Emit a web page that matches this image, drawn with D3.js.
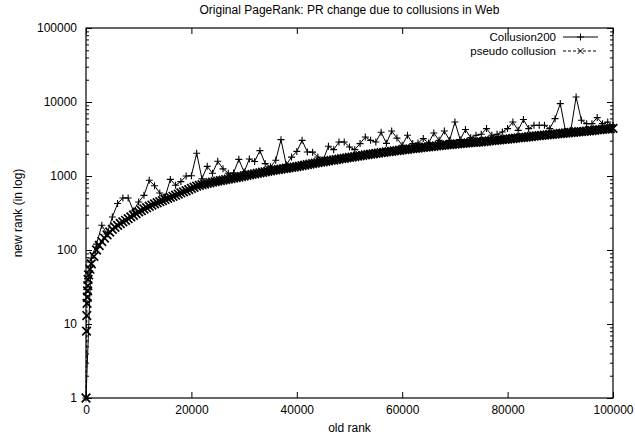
<!DOCTYPE html>
<html><head><meta charset="utf-8">
<script src="https://cdn.jsdelivr.net/npm/d3@7"></script>
<style>
body{margin:0;background:#fff}
svg{display:block}
text{font-family:"Liberation Sans",Arial,Helvetica,sans-serif;fill:#000}
</style>
</head><body>
<svg id="chart" width="635" height="438"></svg>
<script>
const chartTitle = "Original PageRank: PR change due to collusions in Web";
const xAxisLabel = "old rank";
const yAxisLabel = "new rank (in log)";
const seriesNames = ["Collusion200", "pseudo collusion"];
const xTickValues = [0, 20000, 40000, 60000, 80000, 100000];
const yTickValues = [1, 10, 100, 1000, 10000, 100000];

// Collusion200: old rank (step 1000) -> new rank
const collusionRanks = d3.range(0, 100001, 1000);
const collusionValues = [
  1, 78, 120, 216, 165, 279, 424, 505, 505, 337,
  446, 548, 875, 740, 590, 520, 900, 750, 840, 1000,
  1010, 2030, 920, 1350, 1090, 1580, 1250, 1090, 1100, 1680,
  1130, 1700, 1570, 2200, 1470, 1330, 1630, 3100, 1420, 1800,
  2150, 3030, 2110, 2100, 1810, 1650, 2520, 2270, 2880, 2880,
  2470, 2270, 2740, 3360, 3030, 2880, 3900, 2760, 4060, 3250,
  2600, 3550, 2740, 2790, 3200, 2790, 3810, 3030, 4060, 3030,
  5370, 3100, 4240, 3300, 3550, 3660, 4370, 3550, 3660, 3930,
  4370, 5370, 4140, 5790, 4370, 4840, 4840, 4840, 4370, 5960,
  9510, 4000, 4140, 11690, 5660, 5100, 5100, 6150, 5100, 5370,
  4840
];

// pseudo collusion: early irregular samples, then every 500
const pseudoEarlyRanks = [0, 100, 150, 200, 250, 300, 350, 400, 500, 750];
const pseudoEarlyValues = [1, 8, 13, 19, 23, 28, 33, 40, 46, 55];
const pseudoGridRanks = d3.range(1000, 100001, 500);
const pseudoGridValues = [
  65, 82, 100, 115, 130, 145, 160, 175, 190, 203,
  215, 228, 240, 252, 265, 280, 295, 310, 328, 342,
  358, 373, 390, 405, 420, 435, 450, 465, 482, 498,
  515, 532, 550, 570, 590, 610, 632, 655, 680, 705,
  728, 748, 765, 780, 795, 810, 825, 840, 855, 868,
  880, 895, 910, 925, 940, 955, 970, 985, 1000, 1018,
  1035, 1052, 1070, 1088, 1105, 1123, 1140, 1158, 1175, 1192,
  1208, 1225, 1240, 1256, 1272, 1288, 1305, 1322, 1340, 1360,
  1382, 1404, 1426, 1448, 1470, 1492, 1514, 1536, 1558, 1580,
  1602, 1624, 1646, 1668, 1690, 1712, 1734, 1756, 1780, 1804,
  1828, 1852, 1876, 1900, 1924, 1948, 1972, 1996, 2020, 2043,
  2066, 2089, 2112, 2135, 2158, 2181, 2204, 2227, 2250, 2273,
  2296, 2319, 2342, 2365, 2388, 2411, 2434, 2457, 2480, 2502,
  2524, 2546, 2568, 2590, 2612, 2634, 2656, 2678, 2700, 2720,
  2740, 2760, 2780, 2800, 2820, 2840, 2860, 2880, 2900, 2925,
  2950, 2975, 3000, 3025, 3050, 3075, 3100, 3125, 3150, 3180,
  3210, 3240, 3270, 3300, 3330, 3360, 3390, 3420, 3450, 3480,
  3510, 3540, 3570, 3600, 3630, 3660, 3690, 3720, 3750, 3780,
  3810, 3840, 3870, 3900, 3930, 3960, 3990, 4020, 4050, 4085,
  4120, 4155, 4190, 4225, 4260, 4295, 4330, 4365, 4400
];

const collusionData = collusionRanks.map((r, i) => ({x: r, y: collusionValues[i]}));
const pseudoData = pseudoEarlyRanks.map((r, i) => ({x: r, y: pseudoEarlyValues[i]}))
  .concat(pseudoGridRanks.map((r, i) => ({x: r, y: pseudoGridValues[i]})));

const svg = d3.select("#chart");
const L = 86, R = 613, T = 28, B = 398;

const x = d3.scaleLinear().domain([0, 100000]).range([L, R]);
const y = d3.scaleLog().domain([1, 100000]).range([B, T]);

const fs = 12;

// Title
svg.append("text").attr("x", (L + R) / 2).attr("y", 14).attr("text-anchor", "middle")
  .style("font-size", fs + "px").text(chartTitle);

// Axes (ticks inward)
svg.append("g").attr("transform", `translate(0,${B})`)
  .call(d3.axisBottom(x).tickValues(xTickValues).tickSize(-6).tickPadding(7).tickFormat(d3.format("d")));
svg.append("g").attr("transform", `translate(0,${T})`)
  .call(d3.axisTop(x).tickValues(xTickValues).tickSize(-6).tickFormat(""));
svg.append("g").attr("transform", `translate(${L},0)`)
  .call(d3.axisLeft(y).tickValues(yTickValues).tickSize(-6).tickPadding(9).tickFormat(d3.format("d")));
svg.append("g").attr("transform", `translate(${R},0)`)
  .call(d3.axisRight(y).tickValues(yTickValues).tickSize(-6).tickFormat(""));

// minor log ticks
const minorVals = [];
yTickValues.slice(0, -1).forEach(d => { for (let k = 2; k <= 9; k++) minorVals.push(d * k); });
svg.append("g").attr("transform", `translate(${L},0)`)
  .call(d3.axisLeft(y).tickValues(minorVals).tickSize(-3).tickFormat(""));
svg.append("g").attr("transform", `translate(${R},0)`)
  .call(d3.axisRight(y).tickValues(minorVals).tickSize(-3).tickFormat(""));

svg.selectAll(".domain").remove();
svg.selectAll(".tick line").attr("stroke", "#000");
svg.selectAll(".tick text").style("font-size", fs + "px").style("font-family", '"Liberation Sans",Arial,sans-serif');

// Frame
svg.append("rect").attr("x", L).attr("y", T).attr("width", R - L).attr("height", B - T)
  .attr("fill", "none").attr("stroke", "#000").attr("stroke-width", 1.2);

// Axis labels
svg.append("text").attr("x", (L + R) / 2).attr("y", 432).attr("text-anchor", "middle")
  .style("font-size", fs + "px").text(xAxisLabel);
svg.append("text").attr("transform", `translate(22,${(T + B) / 2}) rotate(-90)`)
  .attr("text-anchor", "middle").style("font-size", fs + "px").text(yAxisLabel);

const plot = svg.append("g");
const line = d3.line().x(d => x(d.x)).y(d => y(d.y));

// Collusion200 series
plot.append("path").datum(collusionData).attr("d", line)
  .attr("fill", "none").attr("stroke", "#000").attr("stroke-width", 1);
const plusSize = 3.5;
plot.append("g").selectAll("path").data(collusionData).join("path")
  .attr("d", d => `M${x(d.x) - plusSize},${y(d.y)}H${x(d.x) + plusSize}M${x(d.x)},${y(d.y) - plusSize}V${y(d.y) + plusSize}`)
  .attr("stroke", "#000").attr("stroke-width", 1.1);

// pseudo collusion series
plot.append("path").datum(pseudoData).attr("d", line)
  .attr("fill", "none").attr("stroke", "#000").attr("stroke-width", 1).attr("stroke-dasharray", "3,2");
const xs = 4.3;
plot.append("g").selectAll("path").data(pseudoData).join("path")
  .attr("d", d => `M${x(d.x) - xs},${y(d.y) - xs}L${x(d.x) + xs},${y(d.y) + xs}M${x(d.x) - xs},${y(d.y) + xs}L${x(d.x) + xs},${y(d.y) - xs}`)
  .attr("stroke", "#000").attr("stroke-width", 1.7);

// Legend
const lgX = 556, lgLine0 = 563, lgLine1 = 598;
const lgRows = [37, 51];
seriesNames.forEach((name, i) => {
  const yy = lgRows[i];
  svg.append("text").attr("x", lgX).attr("y", yy).attr("dy", "0.35em").attr("text-anchor", "end")
    .style("font-size", "11.5px").text(name);
  svg.append("line").attr("x1", lgLine0).attr("x2", lgLine1).attr("y1", yy).attr("y2", yy)
    .attr("stroke", "#000").attr("stroke-width", 1).attr("stroke-dasharray", i === 1 ? "3,2" : null);
  const cx = (lgLine0 + lgLine1) / 2;
  svg.append("path").attr("d", i === 0
      ? `M${cx - plusSize},${yy}H${cx + plusSize}M${cx},${yy - plusSize}V${yy + plusSize}`
      : `M${cx - 3},${yy - 3}L${cx + 3},${yy + 3}M${cx - 3},${yy + 3}L${cx + 3},${yy - 3}`)
    .attr("stroke", "#000").attr("stroke-width", 1);
});
</script>
</body></html>
